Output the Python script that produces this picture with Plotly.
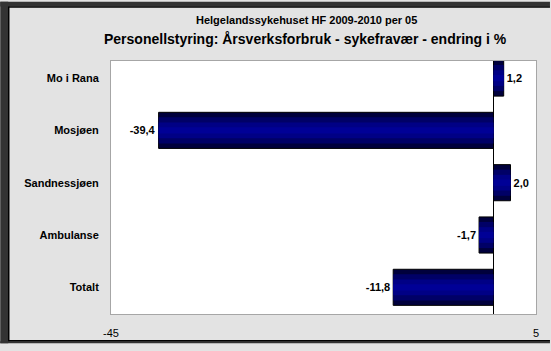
import plotly.graph_objects as go

categories = ["Mo i Rana", "Mosjøen", "Sandnessjøen", "Ambulanse", "Totalt"]
values = [1.2, -39.4, 2.0, -1.7, -11.8]
labels = ["1,2", "-39,4", "2,0", "-1,7", "-11,8"]
x_ticks = [-45, 5]
x_ticktext = ["-45", "5"]

W, H = 551, 351
L, R, T, B = 111, 537, 61, 321


def px(x):
    return (x - L) / (R - L)


def py(y):
    return (B - y) / (B - T)


FONT = "Liberation Sans, Arial, sans-serif"

fig = go.Figure()
# gradient-like shading with overlaid bars
fig.add_trace(go.Bar(
    y=categories, x=values, orientation="h", width=0.69,
    marker=dict(color="#00003c", line=dict(color="#000000", width=1)),
    text=labels, textposition="outside", cliponaxis=False,
    textfont=dict(family=FONT, size=11, color="#000000", weight="bold"),
    hoverinfo="skip", showlegend=False,
))
fig.add_trace(go.Bar(
    y=categories, x=values, orientation="h", width=0.5,
    marker=dict(color="#000066", line=dict(width=0)),
    hoverinfo="skip", showlegend=False,
))
fig.add_trace(go.Bar(
    y=categories, x=values, orientation="h", width=0.3,
    marker=dict(color="#000085", line=dict(width=0)),
    hoverinfo="skip", showlegend=False,
))
fig.add_trace(go.Bar(
    y=categories, x=values, orientation="h", width=0.12,
    marker=dict(color="#000096", line=dict(width=0)),
    hoverinfo="skip", showlegend=False,
))

shapes = [
    # dark frame left / top / bottom
    dict(type="rect", xref="paper", yref="paper", x0=px(0), x1=px(8), y0=py(0), y1=py(H), fillcolor="#333333", line=dict(width=0), layer="above"),
    dict(type="rect", xref="paper", yref="paper", x0=px(0), x1=px(W), y0=py(0), y1=py(5), fillcolor="#333333", line=dict(width=0), layer="above"),
    dict(type="rect", xref="paper", yref="paper", x0=px(0), x1=px(W), y0=py(349), y1=py(H), fillcolor="#333333", line=dict(width=0), layer="above"),
    dict(type="line", xref="paper", yref="paper", x0=px(8.5), x1=px(8.5), y0=py(5), y1=py(349), line=dict(color="#000000", width=1.5), layer="above"),
    dict(type="line", xref="paper", yref="paper", x0=px(8), x1=px(W), y0=py(5.5), y1=py(5.5), line=dict(color="#000000", width=1.5), layer="above"),
    dict(type="line", xref="paper", yref="paper", x0=px(8), x1=px(W), y0=py(348.5), y1=py(348.5), line=dict(color="#000000", width=1.5), layer="above"),
]

annotations = [
    dict(text="Helgelandssykehuset HF 2009-2010 per 05", xref="paper", yref="paper",
         x=px(307), y=py(19), showarrow=False, xanchor="center", yanchor="middle",
         font=dict(family=FONT, size=11, color="#000000", weight="bold")),
    dict(text="Personellstyring: Årsverksforbruk - sykefravær - endring i %", xref="paper", yref="paper",
         x=px(306), y=py(38), showarrow=False, xanchor="center", yanchor="middle",
         font=dict(family=FONT, size=14, color="#000000", weight="bold")),
]

fig.update_layout(
    width=W, height=H,
    margin=dict(l=L, r=W - R, t=T, b=H - B, pad=0),
    paper_bgcolor="#e3e3e3",
    plot_bgcolor="#ffffff",
    barmode="overlay",
    shapes=shapes,
    annotations=annotations,
    xaxis=dict(
        range=[-45, 5], tickvals=x_ticks, ticktext=x_ticktext,
        showgrid=False, zeroline=True, zerolinecolor="#000000", zerolinewidth=1,
        showline=True, mirror=True, linecolor="#a6a6a6", linewidth=1,
        ticks="outside", ticklen=9, tickcolor="rgba(0,0,0,0)",
        tickfont=dict(family=FONT, size=11, color="#000000"),
        fixedrange=True,
    ),
    yaxis=dict(
        type="category", range=[4.51, -0.326],
        showgrid=False, showline=True, mirror=True, linecolor="#a6a6a6", linewidth=1,
        ticks="outside", ticklen=9, tickcolor="rgba(0,0,0,0)",
        tickfont=dict(family=FONT, size=11, color="#000000", weight="bold"),
        fixedrange=True,
    ),
)

fig.write_html(
    "out.html",
    config={"displayModeBar": False},
    post_script="document.body.style.margin='0';document.body.style.overflow='hidden';",
)
